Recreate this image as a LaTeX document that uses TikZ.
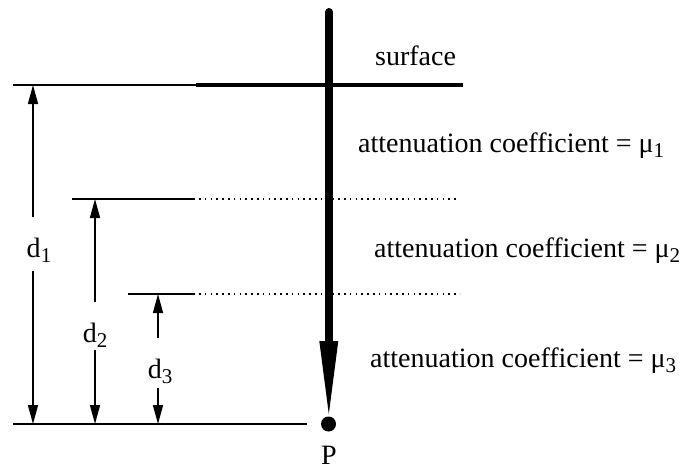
\documentclass[tikz,border=0pt]{standalone}
\usepackage{fontspec}
\setmainfont{Liberation Serif}
\usetikzlibrary{arrows.meta}
\newcommand{\sbs}[1]{\raisebox{-0.2em}{\fontsize{21}{21}\selectfont #1}}
\tikzset{
  thin line/.style={line width=1.6pt},
  dot line/.style={line width=1.6pt, dash pattern=on 1.6pt off 4.2pt},
  dim/.style={line width=1.6pt, -{Triangle[length=19pt,width=10pt]}},
  lbl/.style={font=\fontsize{28}{32}\selectfont, inner sep=0pt},
}
\begin{document}
\begin{tikzpicture}[x=1pt,y=-1pt]
\useasboundingbox (0,0) rectangle (680,469);
% coordinates
\coordinate (top) at (329,12);
\coordinate (shaftend) at (329,343);
\coordinate (s0) at (13,85);
\coordinate (s1) at (196,85);
\coordinate (s2) at (463,85);
\coordinate (l2a) at (72,199);
\coordinate (l2b) at (195,199);
\coordinate (l2c) at (199,199);
\coordinate (l2d) at (458,199);
\coordinate (l3a) at (128,294);
\coordinate (l3b) at (195,294);
\coordinate (l3c) at (199,294);
\coordinate (l3d) at (460,294);
\coordinate (b0) at (13,424);
\coordinate (b1) at (307,424);
\coordinate (d1t) at (33,85);
\coordinate (d1b) at (33,424);
\coordinate (d2t) at (95,199);
\coordinate (d2b) at (95,424);
\coordinate (d3t) at (158,294);
\coordinate (d3b) at (158,424);
% horizontal lines
\draw[thin line] (s0) -- (s1);
\draw[line width=4pt] (s1) -- (s2);
\draw[thin line] (l2a) -- (l2b);
\draw[dot line] (l2c) -- (l2d);
\draw[thin line] (l3a) -- (l3b);
\draw[dot line] (l3c) -- (l3d);
\draw[thin line] (b0) -- (b1);
% thick vertical arrow
\draw[line width=8pt, line cap=round] (top) -- (shaftend);
\fill (319.3,341) -- (338.3,341) -- (328.8,414) -- cycle;
\node[circle, fill, inner sep=0pt, minimum size=15pt] (P) at (328.5,424) {};
\node[lbl, anchor=base] (Plbl) at (329,464) {P};
% dimension labels
\node[lbl, anchor=base] (d1) at (39,257) {d\sbs{1}};
\node[lbl, anchor=base] (d2) at (95,342) {d\sbs{2}};
\node[lbl, anchor=base] (d3) at (160,378) {d\sbs{3}};
% dimension arrows
\draw[dim] ([yshift=20pt]d1.north -| d1t) -- (d1t);
\draw[dim] ([yshift=-14pt]d1.base -| d1b) -- (d1b);
\draw[dim] ([yshift=20pt]d2.north -| d2t) -- (d2t);
\draw[dim] ([yshift=-8pt]d2.base -| d2b) -- (d2b);
\draw[dim] ([yshift=20pt]d3.north -| d3t) -- (d3t);
\draw[dim] ([yshift=-10pt]d3.base -| d3b) -- (d3b);
% texts
\node[lbl, anchor=base west] (surf) at (375,65) {surface};
\node[lbl, anchor=base west] (mu1) at (358,152) {attenuation coefficient = μ\sbs{1}};
\node[lbl, anchor=base west] (mu2) at (374,257) {attenuation coefficient = μ\sbs{2}};
\node[lbl, anchor=base west] (mu3) at (370,367) {attenuation coefficient = μ\sbs{3}};
\end{tikzpicture}
\end{document}
